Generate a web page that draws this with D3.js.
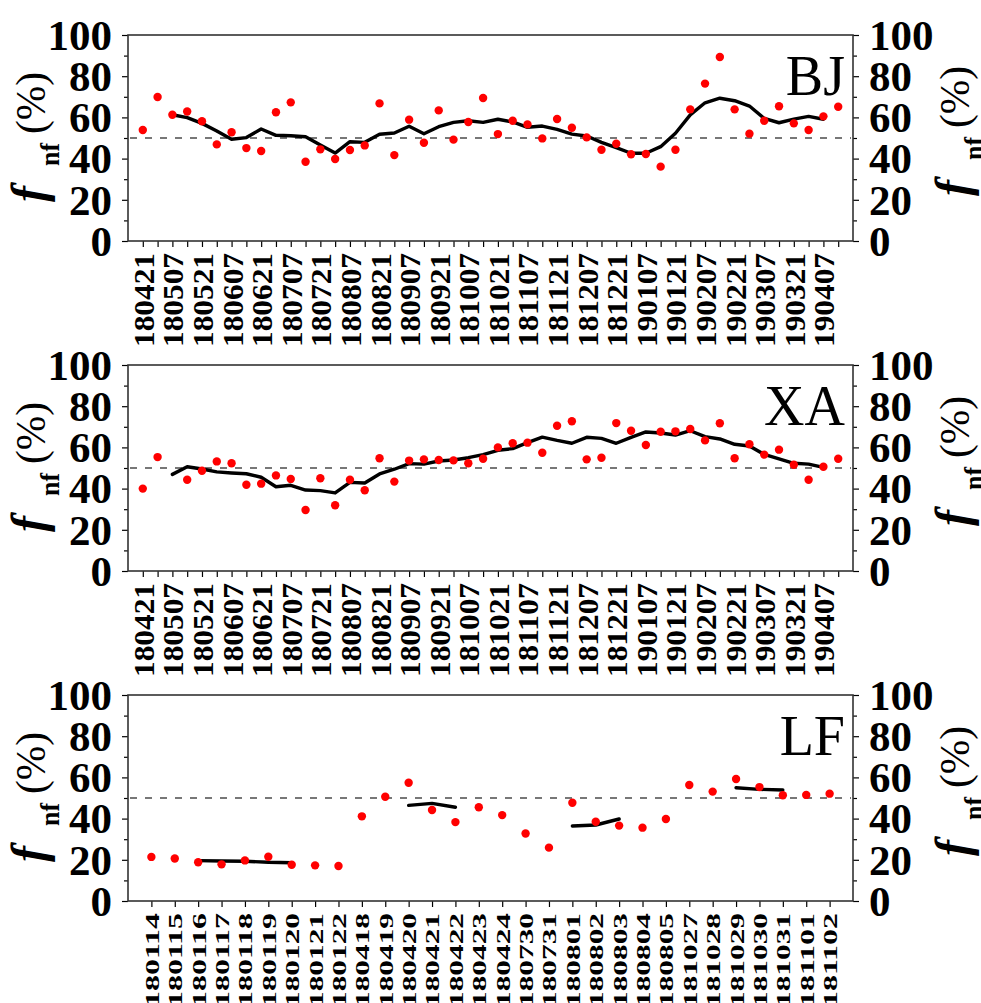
<!DOCTYPE html>
<html><head><meta charset="utf-8">
<script src="https://cdn.jsdelivr.net/npm/d3@7"></script>
<style>body{margin:0;background:#fff}</style>
</head><body><svg id="c" width="981" height="1003"></svg>
<script>
// ---------- DATA ----------
const tickLabelsBJXA = ["180421","180507","180521","180607","180621","180707","180721","180807","180821","180907","180921","181007","181021","181107","181121","181207","181221","190107","190121","190207","190221","190307","190321","190407"];
const nBJXA = 48; // weekly samples, every other one labelled

const bjPoints = [53.9,69.9,61.3,62.9,58.1,46.9,52.8,45.1,43.7,62.5,67.3,38.5,44.5,39.8,44.2,46.4,66.8,41.7,58.9,47.7,63.4,49.2,57.8,69.4,51.9,58.4,56.6,49.8,59.2,55.0,50.3,44.3,47.2,42.1,42.2,36.1,44.3,63.9,76.4,89.3,63.9,52.1,58.4,65.4,57.1,53.9,60.5,65.2];
const bjLine = [null,null,61.3,59.9,57.1,53.4,49.4,50.2,54.4,51.3,51.1,50.6,46.6,42.7,48.2,47.9,51.8,52.4,55.7,52.1,55.5,57.6,58.4,57.6,59.1,57.8,55.2,55.8,54.2,51.9,51.0,47.9,45.3,42.6,42.6,45.8,52.3,61.2,67.1,69.3,68.1,65.5,59.5,57.4,59.2,60.5,59.1,null];

const xaPoints = [40.0,55.3,null,44.3,48.7,53.2,52.3,41.9,42.4,46.4,44.7,29.6,45.0,31.9,44.3,39.2,54.7,43.4,53.6,54.2,53.9,53.7,52.3,54.5,60.0,62.0,62.3,57.4,70.5,72.7,54.2,55.0,71.8,68.1,61.2,67.6,67.8,68.9,63.4,71.7,54.7,61.5,56.5,58.9,51.6,44.3,50.6,54.5];
const xaLine = [null,null,46.9,50.6,49.5,48.1,47.6,47.2,45.5,40.9,41.6,39.3,39.0,37.9,43.0,42.7,47.1,49.4,52.1,51.9,53.4,53.9,55.0,56.5,58.6,59.4,62.3,65.0,63.4,62.0,64.9,64.4,62.0,64.9,67.5,67.0,66.0,68.1,65.2,64.1,61.5,60.7,56.6,54.4,52.3,51.9,50.3,null];

const lfCategories = ["180114","180115","180116","180117","180118","180119","180120","180121","180122","180418","180419","180420","180421","180422","180423","180424","180730","180731","180801","180802","180803","180804","180805","181027","181028","181029","181030","181031","181101","181102"];
const lfPoints = [21.4,20.6,18.8,17.8,19.7,21.5,17.6,17.3,17.0,41.1,50.6,57.4,44.2,38.3,45.5,41.7,32.8,25.9,47.7,38.5,36.6,35.6,39.8,56.3,53.1,59.2,55.3,51.3,51.5,52.1];
const lfLine = [null,null,19.6,19.4,19.3,18.8,18.6,null,null,null,null,46.4,47.4,45.5,null,null,null,null,36.4,36.9,39.8,null,null,null,null,55.0,54.2,53.9,null,null];

const yTicksMajor = [0,20,40,60,80,100];
const yTicksMinor = [10,30,50,70,90];
const threshold = 50;

// ---------- LAYOUT ----------
const svg = d3.select("#c");
const L = 128, R = 853;
const FONT = "'Liberation Serif','Times New Roman',Times,serif";

const panels = [
  {name:"BJ", top:35, bottom:241, n:nBJXA, pts:bjPoints, line:bjLine,
   ticks:d3.range(nBJXA), labels:i => (i%2===0 && tickLabelsBJXA[i/2]) ? tickLabelsBJXA[i/2] : "", squeeze:1},
  {name:"XA", top:365, bottom:571, n:nBJXA, pts:xaPoints, line:xaLine,
   ticks:d3.range(nBJXA), labels:i => (i%2===0 && tickLabelsBJXA[i/2]) ? tickLabelsBJXA[i/2] : "", squeeze:1},
  {name:"LF", top:695, bottom:901, n:lfCategories.length, pts:lfPoints, line:lfLine,
   ticks:d3.range(lfCategories.length), labels:i => lfCategories[i], squeeze:0.66}
];

panels.forEach(p => {
  const x = d3.scaleLinear().domain([-1, p.n]).range([L, R]);
  const y = d3.scaleLinear().domain([0, 100]).range([p.bottom, p.top]);
  const g = svg.append("g");

  // left axis
  const la = g.append("g").attr("transform", `translate(${L},0)`)
    .call(d3.axisLeft(y).tickValues(yTicksMajor).tickSize(6).tickSizeOuter(0).tickFormat(d3.format("d")));
  la.select(".domain").remove();
  la.selectAll("text").attr("font-family", FONT).attr("font-weight","bold").attr("font-size", 43)
    .attr("x", -16).attr("dy","0.33em").attr("fill","#000");
  const lm = g.append("g").attr("transform", `translate(${L},0)`)
    .call(d3.axisLeft(y).tickValues(yTicksMinor).tickSize(4).tickSizeOuter(0).tickFormat(""));
  lm.select(".domain").remove();

  // right axis
  const ra = g.append("g").attr("transform", `translate(${R},0)`)
    .call(d3.axisRight(y).tickValues(yTicksMajor).tickSize(6).tickSizeOuter(0).tickFormat(d3.format("d")));
  ra.select(".domain").remove();
  ra.selectAll("text").attr("font-family", FONT).attr("font-weight","bold").attr("font-size", 43)
    .attr("x", 16).attr("dy","0.33em").attr("fill","#000");
  const rm = g.append("g").attr("transform", `translate(${R},0)`)
    .call(d3.axisRight(y).tickValues(yTicksMinor).tickSize(4).tickSizeOuter(0).tickFormat(""));
  rm.select(".domain").remove();

  // bottom axis
  const ba = g.append("g").attr("transform", `translate(0,${p.bottom})`)
    .call(d3.axisBottom(x).tickValues(p.ticks).tickSize(6).tickSizeOuter(0).tickFormat(p.labels));
  ba.select(".domain").remove();
  ba.selectAll("text").filter(function(){ return this.textContent.length > 0; })
    .attr("font-family", FONT).attr("font-weight","bold").attr("font-size", 30)
    .attr("text-anchor","end").attr("x",-12).attr("y",0).attr("dy","0.35em")
    .attr("textLength", 94).attr("lengthAdjust","spacingAndGlyphs")
    .attr("transform", `rotate(-90) scale(1,${p.squeeze})`).attr("fill","#000");
  g.selectAll(".tick line").attr("stroke","#000").attr("stroke-width",1.2);

  // frame
  g.append("rect").attr("x", L).attr("y", p.top).attr("width", R-L).attr("height", p.bottom-p.top)
    .attr("fill","none").attr("stroke","#333").attr("stroke-width",1.6);

  // threshold
  g.append("line").attr("x1", L+2).attr("x2", R-2).attr("y1", y(threshold)).attr("y2", y(threshold))
    .attr("stroke","#777").attr("stroke-width",2).attr("stroke-dasharray","7,8");

  // line
  const lineGen = d3.line().defined(d => d != null).x((d,i) => x(i)).y(d => y(d));
  g.append("path").datum(p.line).attr("d", lineGen).attr("fill","none")
    .attr("stroke","#000").attr("stroke-width",3.4).attr("stroke-linejoin","round").attr("stroke-linecap","round");

  // points
  g.append("g").selectAll("circle").data(p.pts.map((v,i)=>({v,i})).filter(d=>d.v!=null))
    .join("circle").attr("cx", d=>x(d.i)).attr("cy", d=>y(d.v)).attr("r",4.2).attr("fill","#ff0000");

  // panel name
  g.append("text").attr("x", 845).attr("y", p.top+60).attr("text-anchor","end")
    .attr("font-family", FONT).attr("font-size", 56).text(p.name);

  // y titles (rotated; local +x = up the page)
  const cy = (p.top + p.bottom)/2;
  [[45, 0], [969, -6]].forEach(([bx, off]) => {
    const t = g.append("text").attr("transform", `translate(${bx},${cy + off}) rotate(-90)`)
      .attr("font-family", FONT).attr("fill","#000");
    t.append("tspan").attr("x", -64).attr("font-style","italic").attr("font-weight","bold").attr("font-size",48).text("f");
    t.append("tspan").attr("x", -28).attr("dy", 14).attr("font-weight","bold").attr("font-size",27)
      .attr("textLength", 23).attr("lengthAdjust","spacingAndGlyphs").text("nf");
    t.append("tspan").attr("x", 4).attr("dy", -14).attr("font-size",42)
      .attr("textLength", 62).attr("lengthAdjust","spacingAndGlyphs").text("(%)");
  });
});
</script></body></html>
